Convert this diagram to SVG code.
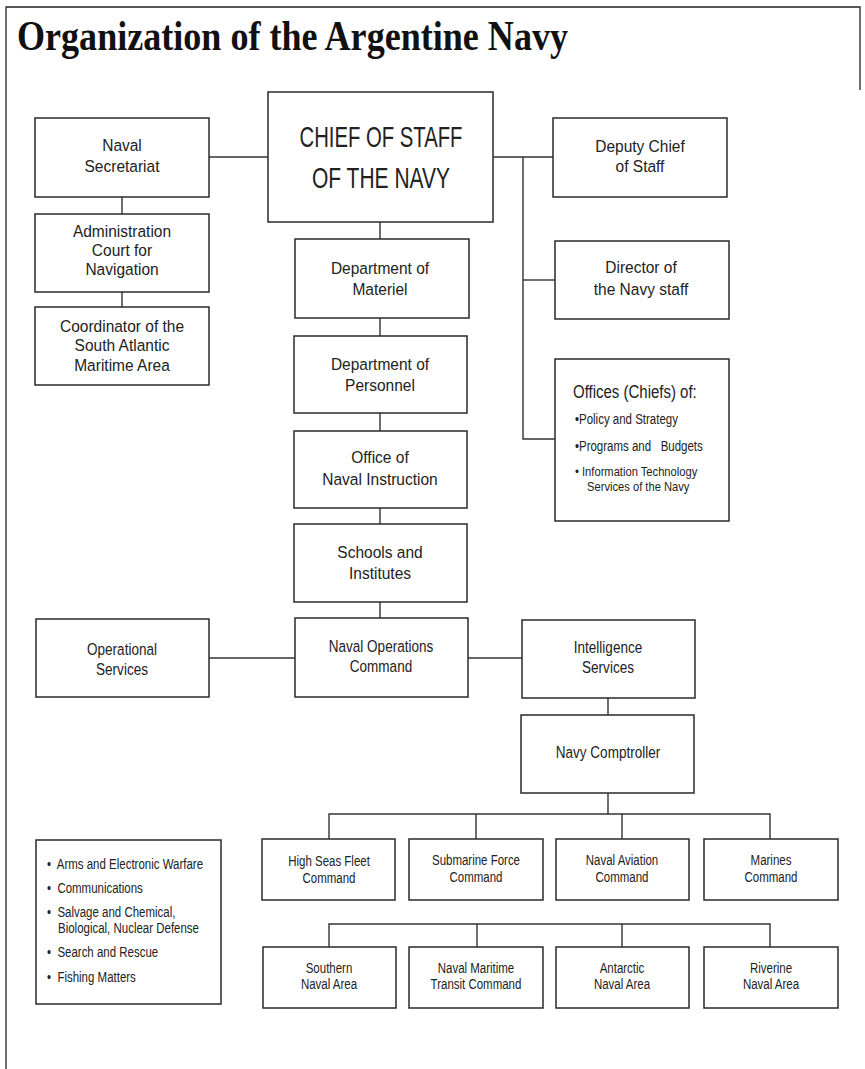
<svg xmlns="http://www.w3.org/2000/svg" width="865" height="1069" viewBox="0 0 865 1069">
<style>
.bg{fill:#fff}
.frame{fill:none;stroke:#222;stroke-width:1.3}
.box{fill:#fff;stroke:#2a2a2a;stroke-width:1.5}
.con{fill:none;stroke:#333;stroke-width:1.4}
.title{font-family:"Liberation Serif","Times New Roman",serif;font-weight:bold;font-size:42px;fill:#111}
.t{font-family:"Liberation Sans",Arial,sans-serif;font-size:16.5px;fill:#222;text-anchor:middle}
.n{font-family:"Liberation Sans",Arial,sans-serif;font-size:16.5px;fill:#222;text-anchor:middle}
.s{font-family:"Liberation Sans",Arial,sans-serif;font-size:14px;fill:#222;text-anchor:middle}
.l{font-family:"Liberation Sans",Arial,sans-serif;font-size:14px;fill:#222;white-space:pre}
.l2{font-family:"Liberation Sans",Arial,sans-serif;font-size:13px;fill:#222;white-space:pre}
.h{font-family:"Liberation Sans",Arial,sans-serif;font-size:18.5px;fill:#222}
.big{font-family:"Liberation Sans",Arial,sans-serif;font-size:30px;fill:#222;text-anchor:middle}
</style>
<rect class="bg" x="0" y="0" width="865" height="1069"/>
<path class="frame" d="M6,1069 V7 H860 V90"/>
<text class="title" x="17" y="50" textLength="551" lengthAdjust="spacingAndGlyphs">Organization of the Argentine Navy</text>

<g id="connectors">
<path class="con" d="M209,157 H268"/>
<path class="con" d="M122,197 V214"/>
<path class="con" d="M122,292 V307"/>
<path class="con" d="M493,157 H553"/>
<path class="con" d="M523,157 V439 H555"/>
<path class="con" d="M523,280 H555"/>
<path class="con" d="M380,222 V239"/>
<path class="con" d="M380,318 V336"/>
<path class="con" d="M380,413 V431"/>
<path class="con" d="M380,508 V524"/>
<path class="con" d="M380,602 V618"/>
<path class="con" d="M209,658 H295"/>
<path class="con" d="M468,658 H522"/>
<path class="con" d="M608,698 V715"/>
<path class="con" d="M608,793 V814"/>
<path class="con" d="M329,839 V814 H770 V839"/>
<path class="con" d="M476,814 V839"/>
<path class="con" d="M622,814 V839"/>
<path class="con" d="M329,947 V924 H770 V947"/>
<path class="con" d="M477,924 V947"/>
<path class="con" d="M622,924 V947"/>
</g>

<g id="naval-secretariat">
<rect class="box" x="35" y="118" width="174" height="79"/>
<text class="t" transform="translate(122,0) scale(0.94,1)" x="0" y="151">Naval</text>
<text class="t" transform="translate(122,0) scale(0.94,1)" x="0" y="172">Secretariat</text>
</g>
<g id="chief-of-staff">
<rect class="box" x="268" y="92" width="225" height="130"/>
<text class="big" x="381" y="147" textLength="163" lengthAdjust="spacingAndGlyphs">CHIEF OF STAFF</text>
<text class="big" x="381" y="188" textLength="138" lengthAdjust="spacingAndGlyphs">OF THE NAVY</text>
</g>
<g id="deputy-chief">
<rect class="box" x="553" y="118" width="174" height="79"/>
<text class="t" transform="translate(640,0) scale(0.94,1)" x="0" y="152">Deputy Chief</text>
<text class="t" transform="translate(640,0) scale(0.94,1)" x="0" y="172">of Staff</text>
</g>
<g id="administration-court">
<rect class="box" x="35" y="214" width="174" height="78"/>
<text class="t" transform="translate(122,0) scale(0.94,1)" x="0" y="237">Administration</text>
<text class="t" transform="translate(122,0) scale(0.94,1)" x="0" y="256">Court for</text>
<text class="t" transform="translate(122,0) scale(0.94,1)" x="0" y="275">Navigation</text>
</g>
<g id="coordinator">
<rect class="box" x="35" y="307" width="174" height="78"/>
<text class="t" transform="translate(122,0) scale(0.94,1)" x="0" y="332">Coordinator of the</text>
<text class="t" transform="translate(122,0) scale(0.94,1)" x="0" y="351.5">South Atlantic</text>
<text class="t" transform="translate(122,0) scale(0.94,1)" x="0" y="371">Maritime Area</text>
</g>
<g id="dept-materiel">
<rect class="box" x="295" y="239" width="174" height="79"/>
<text class="t" transform="translate(380,0) scale(0.94,1)" x="0" y="274.5">Department of</text>
<text class="t" transform="translate(380,0) scale(0.94,1)" x="0" y="295">Materiel</text>
</g>
<g id="director">
<rect class="box" x="555" y="241" width="174" height="78"/>
<text class="t" transform="translate(641,0) scale(0.94,1)" x="0" y="273.5">Director of</text>
<text class="t" transform="translate(641,0) scale(0.94,1)" x="0" y="295">the Navy staff</text>
</g>
<g id="offices">
<rect class="box" x="555" y="359" width="174" height="162"/>
<text class="h" transform="translate(573,0) scale(0.81,1)" x="0" y="398">Offices (Chiefs) of:</text>
<text class="l" transform="translate(575,0) scale(0.82,1)" x="0" y="424">•Policy and Strategy</text>
<text class="l" transform="translate(575,0) scale(0.82,1)" x="0" y="451">•Programs and   Budgets</text>
<text class="l2" transform="translate(575,0) scale(0.86,1)" x="0" y="476">• Information Technology</text>
<text class="l2" transform="translate(587,0) scale(0.86,1)" x="0" y="491.5">Services of the Navy</text>
</g>
<g id="dept-personnel">
<rect class="box" x="294" y="336" width="173" height="77"/>
<text class="t" transform="translate(380,0) scale(0.94,1)" x="0" y="370">Department of</text>
<text class="t" transform="translate(380,0) scale(0.94,1)" x="0" y="391">Personnel</text>
</g>
<g id="naval-instruction">
<rect class="box" x="294" y="431" width="173" height="77"/>
<text class="t" transform="translate(380,0) scale(0.94,1)" x="0" y="463.5">Office of</text>
<text class="t" transform="translate(380,0) scale(0.94,1)" x="0" y="485">Naval Instruction</text>
</g>
<g id="schools">
<rect class="box" x="294" y="524" width="173" height="78"/>
<text class="t" transform="translate(380,0) scale(0.94,1)" x="0" y="558">Schools and</text>
<text class="t" transform="translate(380,0) scale(0.94,1)" x="0" y="579.5">Institutes</text>
</g>
<g id="operational-services">
<rect class="box" x="36" y="619" width="173" height="78"/>
<text class="n" transform="translate(122,0) scale(0.82,1)" x="0" y="655">Operational</text>
<text class="n" transform="translate(122,0) scale(0.82,1)" x="0" y="675">Services</text>
</g>
<g id="naval-operations">
<rect class="box" x="295" y="618" width="173" height="79"/>
<text class="n" transform="translate(381,0) scale(0.82,1)" x="0" y="652">Naval Operations</text>
<text class="n" transform="translate(381,0) scale(0.82,1)" x="0" y="672">Command</text>
</g>
<g id="intelligence">
<rect class="box" x="522" y="620" width="173" height="78"/>
<text class="n" transform="translate(608,0) scale(0.82,1)" x="0" y="653.5">Intelligence</text>
<text class="n" transform="translate(608,0) scale(0.82,1)" x="0" y="673">Services</text>
</g>
<g id="comptroller">
<rect class="box" x="521" y="715" width="173" height="78"/>
<text class="n" transform="translate(608,0) scale(0.82,1)" x="0" y="758.5">Navy Comptroller</text>
</g>
<g id="high-seas">
<rect class="box" x="262" y="839" width="133" height="61"/>
<text class="s" transform="translate(329,0) scale(0.82,1)" x="0" y="866">High Seas Fleet</text>
<text class="s" transform="translate(329,0) scale(0.82,1)" x="0" y="883">Command</text>
</g>
<g id="submarine">
<rect class="box" x="409" y="839" width="134" height="61"/>
<text class="s" transform="translate(476,0) scale(0.82,1)" x="0" y="865">Submarine Force</text>
<text class="s" transform="translate(476,0) scale(0.82,1)" x="0" y="882">Command</text>
</g>
<g id="naval-aviation">
<rect class="box" x="556" y="839" width="133" height="61"/>
<text class="s" transform="translate(622,0) scale(0.82,1)" x="0" y="865">Naval Aviation</text>
<text class="s" transform="translate(622,0) scale(0.82,1)" x="0" y="882">Command</text>
</g>
<g id="marines">
<rect class="box" x="704" y="839" width="134" height="61"/>
<text class="s" transform="translate(771,0) scale(0.82,1)" x="0" y="865">Marines</text>
<text class="s" transform="translate(771,0) scale(0.82,1)" x="0" y="882">Command</text>
</g>
<g id="southern">
<rect class="box" x="263" y="947" width="133" height="61"/>
<text class="s" transform="translate(329,0) scale(0.82,1)" x="0" y="973">Southern</text>
<text class="s" transform="translate(329,0) scale(0.82,1)" x="0" y="989">Naval Area</text>
</g>
<g id="maritime-transit">
<rect class="box" x="409" y="947" width="134" height="61"/>
<text class="s" transform="translate(476,0) scale(0.82,1)" x="0" y="973">Naval Maritime</text>
<text class="s" transform="translate(476,0) scale(0.82,1)" x="0" y="989">Transit Command</text>
</g>
<g id="antarctic">
<rect class="box" x="556" y="947" width="133" height="61"/>
<text class="s" transform="translate(622,0) scale(0.82,1)" x="0" y="973">Antarctic</text>
<text class="s" transform="translate(622,0) scale(0.82,1)" x="0" y="989">Naval Area</text>
</g>
<g id="riverine">
<rect class="box" x="704" y="947" width="134" height="61"/>
<text class="s" transform="translate(771,0) scale(0.82,1)" x="0" y="973">Riverine</text>
<text class="s" transform="translate(771,0) scale(0.82,1)" x="0" y="989">Naval Area</text>
</g>
<g id="services-list">
<rect class="box" x="36" y="840" width="185" height="164"/>
<text class="l" transform="translate(47,0) scale(0.82,1)" x="0" y="869">•  Arms and Electronic Warfare</text>
<text class="l" transform="translate(47,0) scale(0.82,1)" x="0" y="893">•  Communications</text>
<text class="l" transform="translate(47,0) scale(0.82,1)" x="0" y="917">•  Salvage and Chemical,</text>
<text class="l" transform="translate(58,0) scale(0.82,1)" x="0" y="933">Biological, Nuclear Defense</text>
<text class="l" transform="translate(47,0) scale(0.82,1)" x="0" y="957">•  Search and Rescue</text>
<text class="l" transform="translate(47,0) scale(0.82,1)" x="0" y="982">•  Fishing Matters</text>
</g>
</svg>
